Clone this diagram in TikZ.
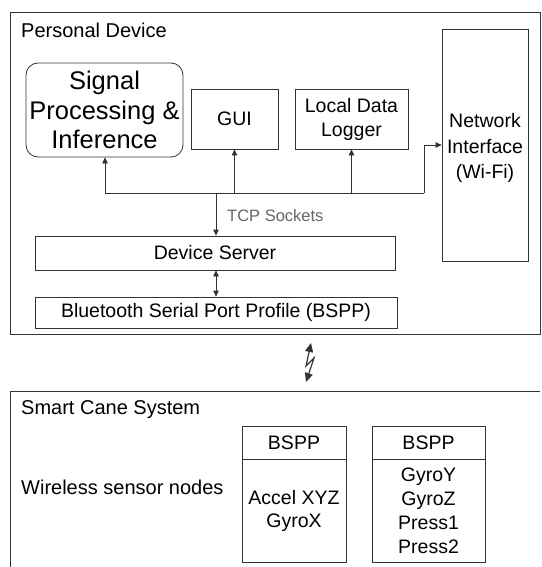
\documentclass[tikz,border=0pt]{standalone}
\usepackage{fontspec}
\setmainfont{Liberation Sans}
\usetikzlibrary{arrows.meta}
\begin{document}
\begin{tikzpicture}[x=1pt,y=-1pt,
  box/.style={draw=black!80,line width=0.8pt,inner sep=0pt,align=center,font=\fontsize{19.5}{24}\selectfont},
  conn/.style={draw=black!80,line width=0.8pt},
  tip/.style={-{Triangle[length=6pt,width=5.5pt]}},
  lbl/.style={anchor=west,inner sep=0pt,font=\fontsize{20}{24}\selectfont}]
\useasboundingbox (0,0) rectangle (541,567);
% outer frames
\draw[conn] (10,12) rectangle (540,334);
\draw[conn] (10,391) -- (540,391);
\draw[conn] (10,391) -- (10,567);
\node[lbl] (pd) at (21,30) {Personal Device};
\node[lbl] (sc) at (21,410) {Smart Cane System};
\node[lbl] (ws) at (21,487) {Wireless sensor nodes};
% top boxes
\node[box,rounded corners=12pt,minimum width=157pt,minimum height=94pt,font=\fontsize{25.5}{29.5}\selectfont] (sp) at (104.5,110) {Signal\\Processing \&\\Inference};
\node[box,minimum width=87pt,minimum height=60pt] (gui) at (234.5,119) {GUI};
\node[box,minimum width=113pt,minimum height=60pt] (ldl) at (351.5,119) {Local Data\\Logger};
\node[box,minimum width=86pt,minimum height=232pt,font=\fontsize{19.5}{25.5}\selectfont] (ni) at (485,145) {};
\node[align=center,inner sep=0pt,font=\fontsize{19.5}{25.5}\selectfont] (nit) at (485,148) {Network\\Interface\\(Wi-Fi)};
\node[box,minimum width=360pt,minimum height=34pt] (ds) at (215,253) {Device Server};
\node[box,minimum width=362pt,minimum height=31pt] (bspp) at (216,312.5) {Bluetooth Serial Port Profile (BSPP)};
% bus
\coordinate (bl) at (105,193);
\coordinate (br) at (424,193);
\coordinate (bm) at (216,193);
\draw[conn] (bl) -- (br);
\draw[conn,tip] (bl) -- (sp.south -| bl);
\draw[conn,tip] (bm -| gui) -- (gui.south);
\draw[conn,tip] (bm -| ldl) -- (ldl.south);
\draw[conn,tip] (br) -- (424,145) -- (ni.west |- 0,145);
\draw[conn,tip] (bm) -- (ds.north -| bm);
\node[lbl,text=black!60,font=\fontsize{16.5}{19}\selectfont] (tcp) at (227,216) {TCP Sockets};
\draw[conn,{Triangle[length=6pt,width=5.5pt]}-{Triangle[length=6pt,width=5.5pt]}] (ds.south -| bm) -- (bspp.north -| bm);
% wireless link
\coordinate (wa) at (311,343);
\coordinate (wb) at (306,382);
\draw[conn,line width=1.2pt,{Triangle[length=9pt,width=8pt]}-{Triangle[length=9pt,width=8pt]}] (wa) -- (306,366) -- (314,358) -- (wb);
% sensor nodes
\node[box,minimum width=104pt,minimum height=33pt] (n1h) at (294,442.5) {BSPP};
\node[box,minimum width=104pt,minimum height=103pt,font=\fontsize{19.5}{23}\selectfont] (n1b) at (294,510.5) {Accel XYZ\\GyroX};
\node[box,minimum width=113pt,minimum height=33pt] (n2h) at (428.5,442.5) {BSPP};
\node[box,minimum width=113pt,minimum height=103pt] (n2b) at (428.5,510.5) {GyroY\\GyroZ\\Press1\\Press2};
\end{tikzpicture}
\end{document}
